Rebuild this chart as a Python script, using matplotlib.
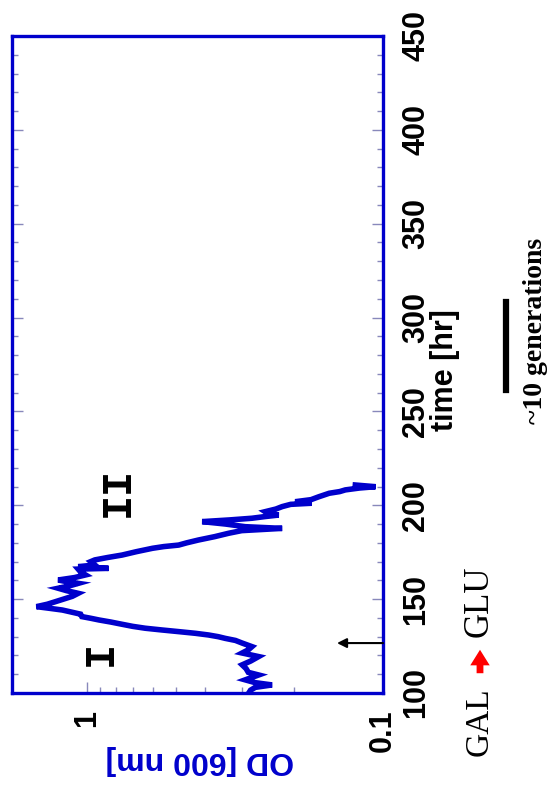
import matplotlib
matplotlib.use("Agg")
import matplotlib.pyplot as plt
from matplotlib.ticker import FixedLocator, NullFormatter, MultipleLocator

# ---- data (time [hr], OD at 600 nm) ----
time_hr = [100, 101.5, 103, 104.3, 105.5, 107, 108.5, 109.6, 111, 113, 115, 117,
           119.4, 121.3, 123, 124.7, 126.6, 128, 129.1, 130, 130.9, 131.8, 132.7,
           133.6, 134.5, 135.5, 136.6, 137.8, 138.9, 139.8, 140.7, 142, 143, 144.2,
           145.2, 146, 147.3, 148.6, 150, 151.5, 153.1, 154.5, 155.8, 157, 158.4,
           159.3, 160.2, 161.5, 162.9, 164.5, 166, 166.4, 167.3, 168.2, 170, 170.9,
           172.2, 173.5, 175.3, 177.1, 178, 178.8, 180, 181.5, 183.3, 185.1, 186.5,
           187.7, 188.6, 190, 191.3, 192.2, 193.1, 194, 194.8, 195.7, 196.6, 198,
           199.3, 200.5, 201.1, 201.9, 203, 204.5, 206.4, 207.3, 208.2, 209.2,
           209.9, 210.8]
od = [0.284, 0.28, 0.27, 0.237, 0.27, 0.292, 0.275, 0.263, 0.285, 0.29, 0.299, 0.28,
      0.263, 0.299, 0.285, 0.277, 0.299, 0.315, 0.341, 0.36, 0.388, 0.43, 0.49,
      0.56, 0.635, 0.70, 0.76, 0.83, 0.91, 0.97, 1.04, 1.05, 1.12, 1.21,
      1.35, 1.48, 1.36, 1.28, 1.2, 1.12, 1.07, 1.17, 1.25, 1.15, 1.07,
      1.17, 1.25, 1.1, 1.01, 1.05, 1.07, 0.845, 1.07, 0.94, 0.97, 0.94,
      0.85, 0.76, 0.68, 0.60, 0.55, 0.49, 0.46, 0.42, 0.37, 0.332, 0.30,
      0.219, 0.292, 0.34, 0.408, 0.33, 0.277, 0.25, 0.225, 0.245, 0.25, 0.23,
      0.219, 0.205, 0.174, 0.198, 0.175, 0.165, 0.152, 0.14, 0.134, 0.12,
      0.106, 0.124]

od_ticks = [0.1, 1]
od_tick_labels = ["0.1", "1"]
time_ticks = [100, 150, 200, 250, 300, 350, 400, 450]
time_tick_labels = [str(t) for t in time_ticks]

switch_time = 126.6       # GAL -> GLU switch (arrow)
phase_labels = ["I", "II"]
phase_pos = [(0.90, 121.3), (0.785, 207.1)]   # (OD, time)

BLUE = "#0000cc"
W, H = 550, 792
fig = plt.figure(figsize=(W / 100, H / 100), dpi=100)

def fx(px):
    return px / W

def fy(py):
    return 1 - py / H

ax = fig.add_axes([fx(12), fy(693), fx(383) - fx(12), fy(36) - fy(693)])

ax.plot(od, time_hr, color=BLUE, lw=4.0, solid_joinstyle="miter")

ax.set_xscale("log")
ax.set_xlim(1.79, 0.1)
ax.set_ylim(100, 450)

for s in ax.spines.values():
    s.set_color(BLUE)
    s.set_linewidth(2.4)

sans = ["Liberation Sans", "Arial", "DejaVu Sans"]
label_font = dict(family=sans, weight="bold", size=22)

# OD axis (bottom)
ax.xaxis.set_major_locator(FixedLocator(od_ticks))
ax.set_xticklabels(od_tick_labels, rotation=90, **label_font)
ax.xaxis.set_minor_locator(FixedLocator([0.2, 0.3, 0.4, 0.5, 0.6, 0.7, 0.8, 0.9]))
ax.xaxis.set_minor_formatter(NullFormatter())
ax.tick_params(axis="x", which="major", direction="in", length=8, width=1,
               color="#8888bb", pad=12, top=False, bottom=True)
ax.tick_params(axis="x", which="minor", direction="in", length=4, width=1,
               color="#8888bb", top=False, bottom=True)

# time axis (right)
ax.yaxis.set_major_locator(FixedLocator(time_ticks))
ax.yaxis.set_minor_locator(MultipleLocator(10))
ax.yaxis.tick_right()
ax.set_yticklabels(time_tick_labels, rotation=90, va="center", **label_font)
ax.tick_params(axis="y", which="major", direction="in", length=8, width=1,
               color="#8888bb", pad=13, left=True, right=True,
               labelleft=False, labelright=True)
ax.tick_params(axis="y", which="minor", direction="in", length=4, width=1,
               color="#8888bb", left=True, right=True)

# axis titles
fig.text(fx(445), fy(370), "time [hr]", rotation=90, ha="center", va="center",
         **label_font)
fig.text(fx(200), fy(760), "OD [600 nm]", rotation=180, ha="center", va="center",
         color=BLUE, family=sans, weight="bold", size=23)

# phase labels
for lab, (o, t) in zip(phase_labels, phase_pos):
    ax.text(o, t, lab, rotation=90, ha="center", va="center",
            family="Liberation Mono", weight="bold", size=30)

# switch arrow
ax.annotate("", xy=(0.143, switch_time), xytext=(0.1, switch_time),
            arrowprops=dict(arrowstyle="-|>", color="black", lw=1.5,
                            mutation_scale=14, shrinkA=0, shrinkB=0),
            annotation_clip=False)

# scale bar ~10 generations
fig.add_artist(plt.Line2D([fx(506), fx(506)], [fy(302), fy(390)],
                          color="black", lw=4.5, transform=fig.transFigure))
fig.text(fx(536), fy(331), "~10 generations", rotation=90, ha="center",
         va="center", family="Liberation Serif", weight="bold", size=20)

# GAL -> GLU
fig.text(fx(479), fy(722), "GAL", rotation=90, ha="center", va="center",
         family="Liberation Serif", size=24)
fig.text(fx(479), fy(601), "GLU", rotation=90, ha="center", va="center",
         family="Liberation Serif", size=25)
fig.patches.append(matplotlib.patches.FancyArrowPatch(
    (fx(480), fy(676)), (fx(480), fy(647)), transform=fig.transFigure,
    arrowstyle="simple,head_width=1.0,head_length=0.8,tail_width=0.35",
    mutation_scale=14, color="red", lw=0))

fig.savefig("out.png", dpi=100)
